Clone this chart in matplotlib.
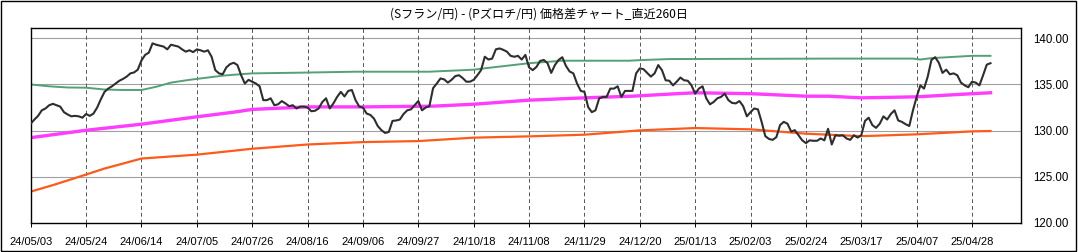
import matplotlib
matplotlib.use("Agg")
import matplotlib.pyplot as plt
from matplotlib.patches import Rectangle

# price spread (S franc/yen - P zloty/yen), last 260 days
spread = [
    130.76, 131.2, 131.6, 132.2, 132.4, 132.75, 132.9, 132.75, 132.6, 132.0,
    131.75, 131.55, 131.6, 131.55, 131.4, 131.8, 131.6, 131.85, 132.5, 133.4,
    134.2, 134.55, 134.8, 135.1, 135.4, 135.6, 135.85, 136.2, 136.3, 136.6,
    137.6, 138.2, 138.45, 139.45, 139.3, 139.2, 139.1, 138.8, 139.3, 139.2,
    139.1, 138.8, 138.55, 138.7, 138.5, 138.8, 138.7, 138.55, 138.7, 138.0,
    136.55, 136.2, 136.1, 136.85, 137.2,
    137.35, 137.1, 136.0, 135.1, 135.5, 135.3, 135.1, 134.8, 133.3, 133.3,
    133.5, 132.75, 132.85, 133.2, 132.95, 132.65, 132.75, 132.4, 132.6, 132.6,
    132.5, 132.1, 132.15, 132.4, 133.1, 133.5, 132.4, 132.95, 133.65, 134.2,
    133.7, 134.3, 134.4, 133.3, 132.6, 132.5, 131.85, 131.7, 131.3, 130.5,
    130.05, 129.75, 129.85, 131.05, 131.1, 131.2, 131.8, 132.2, 132.3, 132.75,
    133.2, 132.2, 132.5, 132.65, 134.6,
    135.1, 135.65, 135.55, 135.2, 135.5, 135.9, 136.0, 135.7, 135.3, 135.3,
    135.5, 136.0, 136.55, 138.0, 137.7, 137.8, 138.8, 138.9, 138.75, 138.55,
    138.1, 138.0, 138.1, 137.7, 138.2, 136.85, 136.55, 136.9, 137.55, 137.65,
    137.3, 136.25, 137.1, 137.65, 137.95, 137.0, 136.4, 136.2, 135.1, 134.3,
    134.2, 132.55, 132.0, 132.2, 133.5, 133.65, 133.65, 134.55, 134.55, 134.8,
    133.65, 134.3, 134.3, 134.3, 136.2, 136.75, 136.65, 136.25, 135.85, 136.2,
    137.1, 136.55, 135.45, 135.4, 134.9, 135.3, 135.75, 135.45, 135.4, 134.9,
    134.0, 134.55, 134.8, 133.5, 132.85, 133.1, 133.5, 133.65, 134.0, 133.3,
    133.0, 132.95, 133.2, 132.65, 131.55, 132.0, 132.4, 132.3, 130.95, 129.4,
    129.1, 129.0, 129.3, 130.6, 130.95, 130.75, 129.9, 130.05, 129.5, 128.95,
    128.65, 128.95, 128.9, 128.9, 129.15, 128.95, 130.2, 128.5, 129.5, 129.45,
    129.5, 129.15, 129.0, 129.5, 129.25, 129.5, 131.05, 131.4, 130.6, 130.3,
    130.75, 131.55, 131.2, 131.8, 132.2, 131.1, 130.95, 130.7, 130.5, 132.2,
    133.65, 134.9, 134.55, 135.85, 137.65, 137.95, 137.35, 136.25, 136.6, 136.1,
    136.2, 136.0, 135.2, 134.9, 134.7, 135.3, 135.2, 134.9, 136.0, 137.15, 137.3,
]

# upper band (green)
upper_idx = [0, 5, 10, 15, 20, 25, 30, 34, 38, 43, 47, 52, 55, 60, 72, 88, 108,
             120, 123, 135, 144, 162, 166, 173, 217, 239, 241, 244, 255, 260]
upper_val = [135.0, 134.8, 134.67, 134.65, 134.45, 134.4, 134.4, 134.75, 135.2,
             135.5, 135.7, 135.95, 136.05, 136.2, 136.27, 136.38, 136.38, 136.6,
             136.75, 137.3, 137.57, 137.57, 137.65, 137.75, 137.8, 137.8, 137.7,
             137.85, 138.1, 138.1]

# average (magenta)
mid_idx = [0, 15, 30, 45, 55, 60, 75, 90, 109, 120, 135, 150, 163, 175, 180,
           195, 210, 216, 225, 240, 255, 260]
mid_val = [129.24, 130.04, 130.7, 131.5, 132.0, 132.3, 132.57, 132.57, 132.65,
           132.86, 133.3, 133.55, 133.73, 134.0, 134.1, 134.0, 133.73, 133.73,
           133.55, 133.66, 134.0, 134.1]

# lower band (orange)
lower_idx = [0, 6, 15, 20, 24, 30, 45, 60, 75, 90, 105, 120, 135, 150, 165, 180,
             195, 210, 225, 240, 255, 260]
lower_val = [123.4, 124.1, 125.25, 125.9, 126.33, 126.98, 127.4, 128.04, 128.5,
             128.76, 128.87, 129.24, 129.38, 129.56, 130.03, 130.28, 130.14,
             129.67, 129.4, 129.6, 129.92, 129.96]

tick_pos = list(range(0, 256, 15))
tick_labels = ["24/05/03", "24/05/24", "24/06/14", "24/07/05", "24/07/26",
               "24/08/16", "24/09/06", "24/09/27", "24/10/18", "24/11/08",
               "24/11/29", "24/12/20", "25/01/13", "25/02/03", "25/02/24",
               "25/03/17", "25/04/07", "25/04/28"]
y_ticks = [120, 125, 130, 135, 140]

fig = plt.figure(figsize=(10.78, 2.52), dpi=100)
ax = fig.add_axes([0.0285, 0.1151, 0.9184, 0.7726])

for y in y_ticks[1:]:
    ax.axhline(y, color="#a0a0a0", lw=0.8, zorder=1)
for x in tick_pos[1:]:
    ax.axvline(x, color="#555555", lw=0.7, ls=(0, (4, 3)), zorder=1)

ax.plot(upper_idx, upper_val, color="#55a077", lw=1.4, zorder=2)
ax.plot(mid_idx, mid_val, color="#ff3cff", lw=2.4, zorder=2)
ax.plot(lower_idx, lower_val, color="#ff5a1a", lw=1.6, zorder=2)
ax.plot(range(len(spread)), spread, color="#2e2e2e", lw=1.5, zorder=3)

ax.set_xlim(0, 268.2)
ax.set_ylim(120, 141.08)
ax.set_xticks(tick_pos)
ax.set_xticklabels(tick_labels, fontsize=8, family="Liberation Sans")
ax.set_yticks(y_ticks)
ax.set_yticklabels(["%.2f" % v for v in y_ticks], fontsize=8.3,
                   family="Liberation Sans")
ax.yaxis.tick_right()
ax.tick_params(axis="y", length=0, pad=9)
ax.tick_params(axis="x", length=3, width=0.7, pad=7, direction="out")
for s in ax.spines.values():
    s.set_linewidth(1.0)
    s.set_color("black")

fig.text(0.5, 0.944, "(Sフラン/円) - (Pズロチ/円) 価格差チャート_直近260日",
         ha="center", va="center", fontsize=8.7,
         family=["Noto Sans CJK JP", "DejaVu Sans"])

fig.patches.append(Rectangle((0.001, 0.002), 0.997, 0.994, transform=fig.transFigure,
                             fill=False, edgecolor="black", lw=1.0))

fig.savefig("out.png", dpi=100)
